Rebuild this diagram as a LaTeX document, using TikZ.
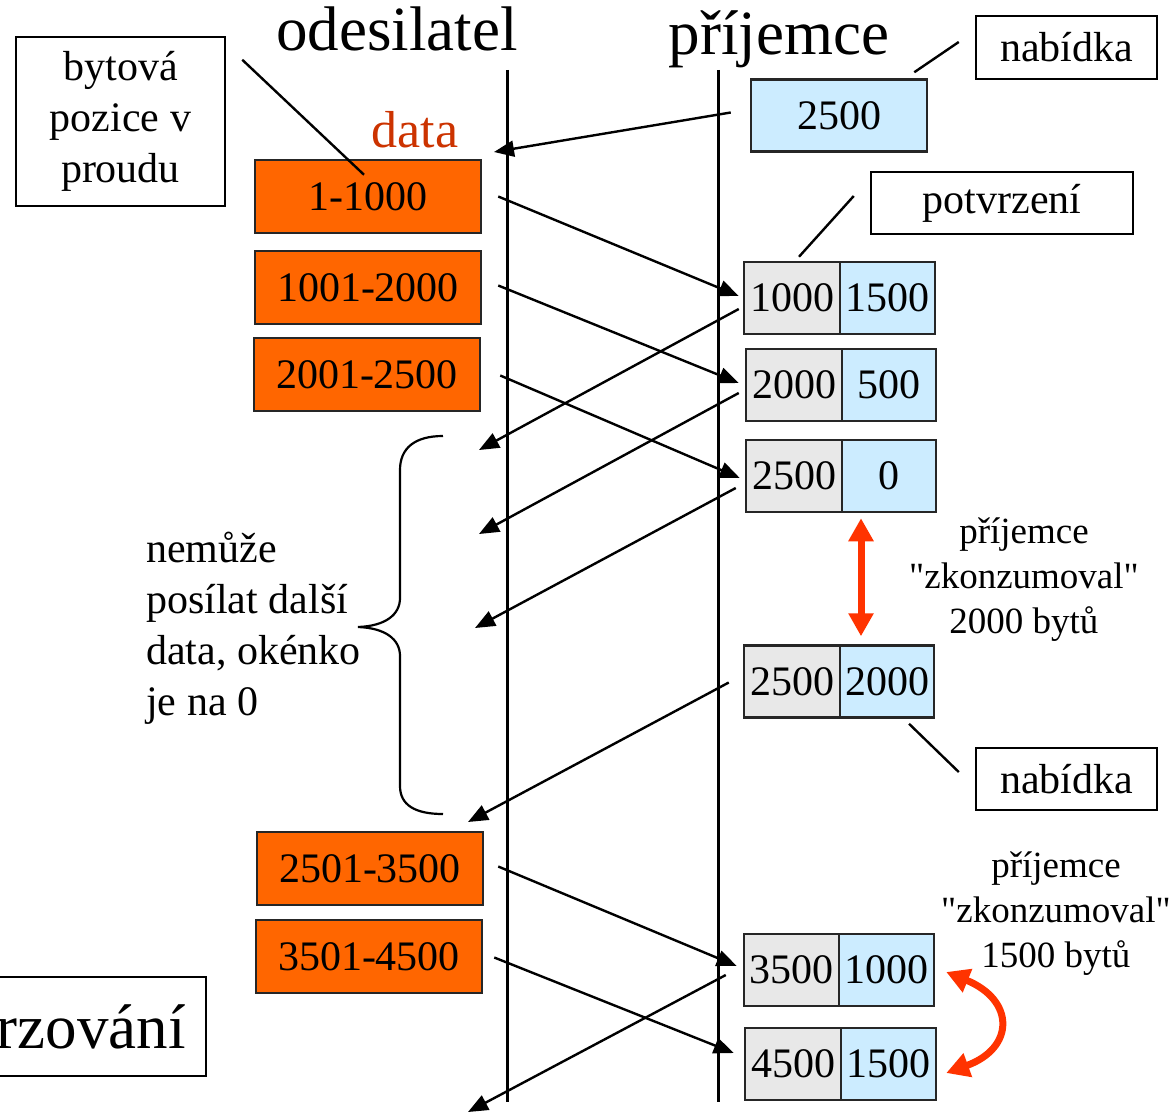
\documentclass[tikz,border=0pt]{standalone}
\usepackage{fontspec}
\setmainfont{Liberation Serif}
\usetikzlibrary{arrows.meta}
\definecolor{dataor}{HTML}{FF6600}
\definecolor{winblue}{HTML}{CCECFF}
\definecolor{ackgray}{HTML}{E8E8E8}
\definecolor{redarr}{HTML}{FF3300}
\definecolor{datatext}{HTML}{CC3300}
\newcommand\fsbig{\fontsize{63}{70}\selectfont}
\newcommand\fsmain{\fontsize{42}{51}\selectfont}
\newcommand\fsdata{\fontsize{52}{60}\selectfont}
\newcommand\fssmall{\fontsize{37}{45}\selectfont}
\tikzset{
  databox/.style={draw=black!85, line width=2.5pt, fill=dataor, minimum width=226pt, minimum height=73pt, inner sep=0pt, font=\fsmain},
  ackcell/.style={draw=black!85, line width=2.5pt, fill=ackgray, minimum height=72pt, inner sep=0pt, font=\fsmain},
  wincell/.style={draw=black!85, line width=2.5pt, fill=winblue, minimum height=72pt, inner sep=0pt, font=\fsmain},
  labelbox/.style={draw=black, line width=2.5pt, fill=white, inner sep=0pt, font=\fsmain},
  arr/.style={draw=black, line width=2.4pt, -{Triangle[length=20pt,width=16pt]}},
  pointer/.style={draw=black, line width=2.4pt},
  redline/.style={draw=redarr, line width=7pt, {Triangle[length=23pt,width=24pt]}-{Triangle[length=23pt,width=24pt]}},
  lifeline/.style={draw=black, line width=3pt}
}
\begin{document}
\begin{tikzpicture}[x=1pt,y=-1pt]
\useasboundingbox (0,0) rectangle (1172,1116);
% titles
\node[font=\fsbig, anchor=base, inner sep=0pt] (tsend) at (397,51) {odesilatel};
\node[font=\fsbig, anchor=base, inner sep=0pt] (trecv) at (779,55) {příjemce};
% lifelines
\draw[lifeline] (507,70) -- (507,1102);
\draw[lifeline] (718,70) -- (718,1102);
% data label
\node[font=\fsdata, text=datatext, anchor=base, inner sep=0pt] (datalbl) at (415,147) {data};
% data boxes
\node[databox] (D1) at (368,196.5) {1-1000};
\node[databox] (D2) at (368,287.5) {1001-2000};
\node[databox] (D3) at (367,374.5) {2001-2500};
\node[databox] (D4) at (370,868.5) {2501-3500};
\node[databox] (D5) at (369,956.5) {3501-4500};
% window offer
\node[wincell, minimum width=176pt] (W0) at (839,115.5) {2500};
% ack boxes
\node[ackcell, minimum width=96pt] (A1l) at (792,298) {1000};
\node[wincell, minimum width=95pt] (A1r) at (887.5,298) {1500};
\node[ackcell, minimum width=96pt] (A2l) at (794,385) {2000};
\node[wincell, minimum width=94pt] (A2r) at (889,385) {500};
\node[ackcell, minimum width=96pt] (A3l) at (794,476) {2500};
\node[wincell, minimum width=94pt] (A3r) at (889,476) {0};
\node[ackcell, minimum width=96pt] (A4l) at (792,681.5) {2500};
\node[wincell, minimum width=94pt] (A4r) at (887,681.5) {2000};
\node[ackcell, minimum width=95pt] (A5l) at (791.5,970) {3500};
\node[wincell, minimum width=95pt] (A5r) at (886.5,970) {1000};
\node[ackcell, minimum width=96pt] (A6l) at (793,1064) {4500};
\node[wincell, minimum width=95pt] (A6r) at (888.5,1064) {1500};
% label boxes
\node[labelbox, minimum width=209pt, minimum height=169pt, align=center] (L1) at (120.5,121.5) {bytová\\pozice v\\proudu};
\node[labelbox, minimum width=181pt, minimum height=63pt] (L2) at (1066.5,47.5) {nabídka};
\node[labelbox, minimum width=262pt, minimum height=62pt] (L3) at (1002,203) {potvrzení};
\node[labelbox, minimum width=181pt, minimum height=62pt] (L4) at (1066.5,779) {nabídka};
\node[labelbox, font=\fsbig, minimum height=99pt, inner xsep=20pt, anchor=east] (L5) at (207,1026.5) {rzování};
% texts (base anchor = last line baseline)
\node[font=\fsmain, align=left, anchor=base west, inner sep=0pt] (brtxt) at (146,715) {nemůže\\posílat další\\data, okénko\\je na 0};
\node[font=\fssmall, align=center, anchor=base, inner sep=0pt] (cons1) at (1024,633) {příjemce\\\textquotedbl zkonzumoval\textquotedbl\\2000 bytů};
\node[font=\fssmall, align=center, anchor=base, inner sep=0pt] (cons2) at (1056,967) {příjemce\\\textquotedbl zkonzumoval\textquotedbl\\1500 bytů};
% free ends
\coordinate (f0) at (494,152);
\coordinate (f1) at (479,450);
\coordinate (f2) at (479,534);
\coordinate (f3) at (475,628);
\coordinate (f4) at (468,822);
\coordinate (f5) at (468,1112);
% pointers
\draw[pointer] ([xshift=16pt,yshift=-24pt]L1.north east) -- ([xshift=-4pt,yshift=-16pt]D1.north);
\draw[pointer] ([xshift=-16pt,yshift=5.5pt]L2.west) -- ([xshift=-14pt,yshift=6pt]W0.north east);
\draw[pointer] ([xshift=-16pt,yshift=7pt]L3.west) -- ([xshift=7pt,yshift=4pt]A1l.north);
\draw[pointer] ([xshift=-16pt,yshift=7pt]L4.west) -- ([xshift=22pt,yshift=-5pt]A4r.south);
% arrows
\draw[arr] ([xshift=-19pt,yshift=3pt]W0.west) -- (f0);
\draw[arr] ([xshift=16pt]D1.east) -- ([xshift=-4pt,yshift=2pt]A1l.west);
\draw[arr] ([xshift=16pt,yshift=2pt]D2.east) -- ([xshift=-6pt,yshift=2pt]A2l.west);
\draw[arr] ([xshift=19pt,yshift=-1pt]D3.east) -- ([xshift=-5pt,yshift=-2pt]A3l.west);
\draw[arr] ([xshift=-4pt,yshift=-11pt]A1l.west) -- (f1);
\draw[arr] ([xshift=-6pt,yshift=-8pt]A2l.west) -- (f2);
\draw[arr] ([xshift=-9pt,yshift=-12pt]A3l.west) -- (f3);
\draw[arr] ([xshift=-14pt,yshift=-1pt]A4l.west) -- (f4);
\draw[arr] ([xshift=14pt,yshift=2pt]D4.east) -- ([xshift=-6pt,yshift=4pt]A5l.west);
\draw[arr] ([xshift=11pt,yshift=-1pt]D5.east) -- ([xshift=-10pt,yshift=11pt]A6l.west);
\draw[arr] ([xshift=-17pt,yshift=-5pt]A5l.west) -- (f5);
% red arrows
\draw[redline] ([xshift=-28pt,yshift=-5pt]A3r.south) -- ([xshift=-26pt,yshift=8pt]A4r.north);
\draw[redline] ([xshift=11pt,yshift=-2pt]A5r.east) .. controls (1015,1000) and (1015,1048) .. ([xshift=9pt,yshift=-9pt]A6r.east);
% brace
\draw[line width=2.2pt] (443,436) .. controls (415,436) and (400,448) .. (400,470) -- (400,598) .. controls (400,615) and (385,626) .. (358,627) .. controls (385,628) and (400,639) .. (400,656) -- (400,786) .. controls (400,805) and (415,814) .. (443,814);
\end{tikzpicture}
\end{document}
